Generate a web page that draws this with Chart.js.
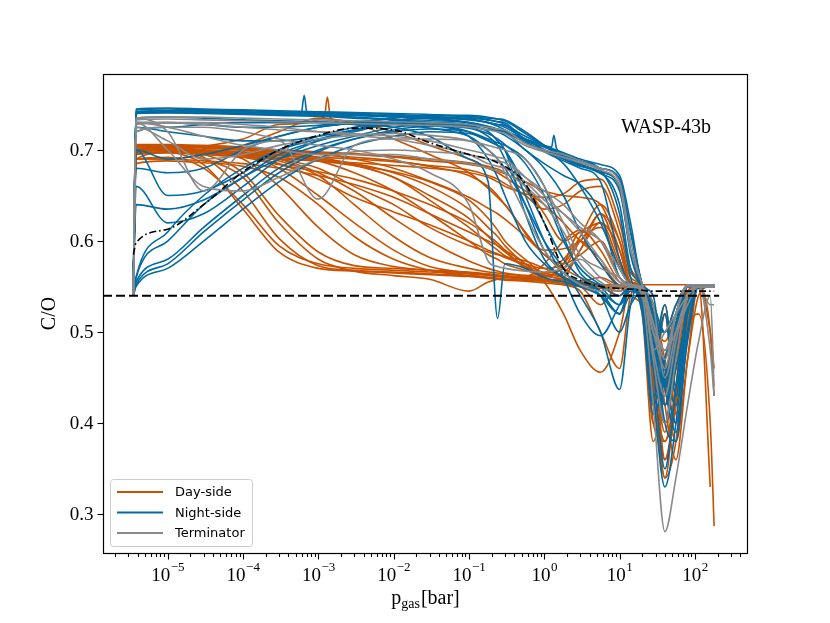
<!DOCTYPE html>
<html>
<head>
<meta charset="utf-8">
<script src="https://cdn.jsdelivr.net/npm/chart.js@4.4.0/dist/chart.umd.min.js"></script>
<style>
  html, body { margin: 0; padding: 0; background: #fff; }
  #wrap { width: 830px; height: 623px; }
</style>
</head>
<body>
<div id="wrap"><canvas id="chart" width="830" height="623"></canvas></div>
<script>
// pression du gaz (bar), grille commune à toutes les courbes
const pressures = [3.5e-6, 3.8e-6,
  1e-5, 3e-5, 1e-4, 3e-4, 1e-3, 3e-3, 1e-2, 3e-2, 0.1,
  0.18, 0.24, 0.3, 0.56, 1, 1.8, 3, 5.6,
  10, 14, 20, 28, 40, 56, 80, 112, 160, 180];

// C/O côté jour
const dayCurves = [
  [0.545, 0.690, 0.697, 0.684, 0.635, 0.588, 0.570, 0.567, 0.565, 0.563, 0.561, 0.559, 0.558, 0.557, 0.556, 0.554, 0.552, 0.550, 0.530, 0.552, 0.550, 0.540, 0.420, 0.470, 0.520, 0.550, 0.550, 0.550, 0.550],
  [0.550, 0.700, 0.700, 0.692, 0.655, 0.603, 0.573, 0.568, 0.566, 0.564, 0.562, 0.560, 0.559, 0.558, 0.557, 0.556, 0.553, 0.550, 0.548, 0.550, 0.552, 0.545, 0.450, 0.360, 0.430, 0.520, 0.550, 0.550, 0.550],
  [0.550, 0.695, 0.700, 0.695, 0.675, 0.628, 0.588, 0.573, 0.570, 0.568, 0.566, 0.564, 0.563, 0.562, 0.560, 0.558, 0.556, 0.553, 0.550, 0.540, 0.550, 0.548, 0.520, 0.460, 0.400, 0.500, 0.550, 0.550, 0.550],
  [0.550, 0.700, 0.703, 0.700, 0.695, 0.680, 0.650, 0.620, 0.590, 0.572, 0.565, 0.563, 0.562, 0.561, 0.560, 0.557, 0.555, 0.552, 0.550, 0.548, 0.550, 0.540, 0.440, 0.520, 0.410, 0.530, 0.550, 0.550, 0.550],
  [0.550, 0.700, 0.702, 0.700, 0.697, 0.690, 0.675, 0.655, 0.625, 0.600, 0.578, 0.570, 0.567, 0.565, 0.562, 0.558, 0.556, 0.553, 0.550, 0.545, 0.550, 0.548, 0.520, 0.500, 0.530, 0.550, 0.550, 0.550, 0.550],
  [0.550, 0.705, 0.705, 0.703, 0.700, 0.695, 0.688, 0.675, 0.655, 0.630, 0.600, 0.585, 0.580, 0.575, 0.568, 0.562, 0.558, 0.555, 0.552, 0.548, 0.552, 0.550, 0.470, 0.390, 0.480, 0.550, 0.550, 0.550, 0.550],
  [0.550, 0.700, 0.700, 0.698, 0.695, 0.690, 0.680, 0.660, 0.640, 0.615, 0.595, 0.588, 0.585, 0.583, 0.578, 0.570, 0.560, 0.555, 0.550, 0.545, 0.550, 0.520, 0.380, 0.440, 0.500, 0.540, 0.550, 0.550, 0.550],
  [0.550, 0.700, 0.700, 0.700, 0.698, 0.695, 0.690, 0.685, 0.675, 0.660, 0.635, 0.615, 0.605, 0.595, 0.575, 0.565, 0.560, 0.555, 0.550, 0.550, 0.552, 0.548, 0.530, 0.470, 0.420, 0.510, 0.550, 0.550, 0.550],
  [0.550, 0.705, 0.705, 0.703, 0.700, 0.698, 0.695, 0.692, 0.688, 0.682, 0.672, 0.660, 0.650, 0.640, 0.610, 0.585, 0.575, 0.585, 0.600, 0.560, 0.552, 0.545, 0.480, 0.400, 0.470, 0.550, 0.550, 0.550, 0.550],
  [0.550, 0.700, 0.700, 0.698, 0.696, 0.694, 0.692, 0.690, 0.687, 0.683, 0.678, 0.672, 0.668, 0.663, 0.650, 0.635, 0.640, 0.655, 0.660, 0.610, 0.565, 0.550, 0.460, 0.520, 0.430, 0.520, 0.550, 0.550, 0.550],
  [0.550, 0.695, 0.697, 0.695, 0.692, 0.690, 0.688, 0.686, 0.683, 0.680, 0.675, 0.670, 0.665, 0.660, 0.652, 0.648, 0.652, 0.665, 0.668, 0.620, 0.570, 0.548, 0.460, 0.340, 0.440, 0.550, 0.550, 0.550, 0.550],
  [0.550, 0.700, 0.700, 0.698, 0.695, 0.692, 0.688, 0.683, 0.676, 0.665, 0.645, 0.625, 0.612, 0.600, 0.580, 0.565, 0.570, 0.600, 0.615, 0.570, 0.552, 0.545, 0.510, 0.490, 0.520, 0.550, 0.550, 0.550, 0.550],
  [0.550, 0.690, 0.690, 0.688, 0.685, 0.680, 0.672, 0.662, 0.648, 0.630, 0.610, 0.600, 0.595, 0.590, 0.575, 0.555, 0.520, 0.480, 0.456, 0.500, 0.550, 0.550, 0.440, 0.340, 0.380, 0.500, 0.520, 0.400, 0.287],
  [0.550, 0.690, 0.690, 0.695, 0.705, 0.720, 0.735, 0.730, 0.720, 0.705, 0.690, 0.680, 0.675, 0.670, 0.655, 0.640, 0.620, 0.600, 0.580, 0.550, 0.552, 0.530, 0.400, 0.450, 0.500, 0.550, 0.550, 0.500, 0.430],
  [0.550, 0.700, 0.700, 0.690, 0.670, 0.620, 0.580, 0.567, 0.562, 0.558, 0.545, 0.555, 0.558, 0.560, 0.562, 0.565, 0.580, 0.600, 0.575, 0.550, 0.540, 0.530, 0.500, 0.440, 0.380, 0.470, 0.540, 0.550, 0.550],
  [0.550, 0.685, 0.688, 0.686, 0.682, 0.670, 0.640, 0.605, 0.580, 0.568, 0.562, 0.560, 0.559, 0.558, 0.560, 0.575, 0.600, 0.612, 0.590, 0.555, 0.550, 0.540, 0.440, 0.380, 0.440, 0.520, 0.550, 0.550, 0.550],
  [0.550, 0.698, 0.700, 0.699, 0.697, 0.694, 0.690, 0.683, 0.670, 0.645, 0.615, 0.598, 0.590, 0.584, 0.572, 0.562, 0.565, 0.590, 0.630, 0.580, 0.552, 0.545, 0.500, 0.480, 0.520, 0.550, 0.552, 0.500, 0.460],
  [0.550, 0.703, 0.704, 0.703, 0.701, 0.699, 0.697, 0.695, 0.692, 0.688, 0.684, 0.680, 0.677, 0.674, 0.665, 0.655, 0.650, 0.648, 0.640, 0.590, 0.555, 0.550, 0.500, 0.360, 0.420, 0.530, 0.550, 0.550, 0.550],
  [0.550, 0.700, 0.701, 0.699, 0.690, 0.660, 0.615, 0.585, 0.572, 0.568, 0.565, 0.563, 0.562, 0.561, 0.559, 0.556, 0.553, 0.552, 0.552, 0.552, 0.552, 0.530, 0.420, 0.470, 0.510, 0.545, 0.552, 0.552, 0.552],
  [0.550, 0.702, 0.703, 0.702, 0.700, 0.697, 0.692, 0.684, 0.670, 0.650, 0.625, 0.605, 0.595, 0.588, 0.572, 0.563, 0.558, 0.556, 0.560, 0.552, 0.552, 0.550, 0.520, 0.420, 0.360, 0.470, 0.552, 0.552, 0.552],
  [0.550, 0.695, 0.698, 0.697, 0.694, 0.688, 0.672, 0.640, 0.605, 0.582, 0.570, 0.566, 0.565, 0.564, 0.562, 0.560, 0.575, 0.610, 0.600, 0.560, 0.552, 0.545, 0.470, 0.530, 0.440, 0.520, 0.552, 0.552, 0.552],
  [0.550, 0.704, 0.705, 0.704, 0.702, 0.700, 0.698, 0.696, 0.693, 0.690, 0.686, 0.682, 0.679, 0.675, 0.660, 0.630, 0.600, 0.610, 0.620, 0.575, 0.552, 0.552, 0.552, 0.552, 0.552, 0.552, 0.552, 0.552, 0.552],
  [0.545, 0.690, 0.692, 0.680, 0.640, 0.595, 0.575, 0.570, 0.568, 0.566, 0.564, 0.562, 0.561, 0.560, 0.558, 0.556, 0.560, 0.590, 0.620, 0.590, 0.552, 0.548, 0.470, 0.420, 0.480, 0.552, 0.552, 0.552, 0.552],
  [0.550, 0.699, 0.700, 0.698, 0.694, 0.685, 0.668, 0.648, 0.632, 0.618, 0.600, 0.590, 0.586, 0.582, 0.575, 0.570, 0.575, 0.605, 0.640, 0.600, 0.555, 0.550, 0.400, 0.380, 0.430, 0.540, 0.552, 0.552, 0.552],
  [0.550, 0.706, 0.706, 0.705, 0.703, 0.700, 0.696, 0.690, 0.680, 0.666, 0.648, 0.636, 0.630, 0.624, 0.605, 0.585, 0.570, 0.560, 0.552, 0.552, 0.552, 0.552, 0.520, 0.450, 0.500, 0.552, 0.552, 0.330, null],
  [0.550, 0.697, 0.698, 0.696, 0.692, 0.684, 0.676, 0.668, 0.655, 0.640, 0.620, 0.606, 0.598, 0.590, 0.570, 0.560, 0.552, 0.545, 0.500, 0.460, 0.540, 0.552, 0.450, 0.360, 0.420, 0.530, 0.552, 0.552, 0.552]
];

// courbe côté jour avec pic vers 1.3e-3 bar (grille propre)
const daySpikeP = [3.5e-6, 3.8e-6, 1e-5, 1e-4, 3e-4, 1.2e-3, 1.32e-3, 1.45e-3, 3e-3, 0.01,
  0.03, 0.1, 0.3, 1, 3, 5.6, 10, 14, 20, 28, 40, 56, 80, 112, 180];
const daySpike = [0.550, 0.700, 0.702, 0.712, 0.728, 0.736, 0.758, 0.735, 0.728, 0.712,
  0.695, 0.675, 0.640, 0.590, 0.600, 0.630, 0.600, 0.560, 0.548, 0.470, 0.400, 0.460, 0.540, 0.552, 0.552];

// C/O côté nuit
const nightCurves = [
  [0.545, 0.745, 0.746, 0.745, 0.744, 0.743, 0.742, 0.741, 0.740, 0.739, 0.736, 0.733, 0.731, 0.728, 0.712, 0.705, 0.697, 0.690, 0.684, 0.672, 0.620, 0.553, 0.540, 0.460, 0.510, 0.550, 0.548, 0.550, 0.550],
  [0.550, 0.742, 0.743, 0.742, 0.741, 0.740, 0.739, 0.738, 0.736, 0.734, 0.730, 0.726, 0.723, 0.720, 0.708, 0.700, 0.692, 0.684, 0.676, 0.660, 0.590, 0.548, 0.500, 0.400, 0.380, 0.500, 0.550, 0.550, 0.550],
  [0.550, 0.740, 0.741, 0.740, 0.739, 0.738, 0.737, 0.735, 0.733, 0.730, 0.725, 0.715, 0.705, 0.690, 0.640, 0.590, 0.565, 0.555, 0.545, 0.530, 0.545, 0.530, 0.420, 0.470, 0.520, 0.550, 0.550, 0.550, 0.550],
  [0.550, 0.720, 0.725, 0.728, 0.730, 0.730, 0.730, 0.728, 0.725, 0.715, 0.690, 0.665, 0.515, 0.575, 0.570, 0.560, 0.555, 0.550, 0.540, 0.500, 0.530, 0.545, 0.470, 0.430, 0.500, 0.550, 0.550, 0.550, 0.550],
  [0.540, 0.555, 0.580, 0.615, 0.650, 0.680, 0.700, 0.712, 0.720, 0.723, 0.720, 0.712, 0.708, 0.705, 0.690, 0.660, 0.605, 0.565, 0.550, 0.530, 0.548, 0.545, 0.520, 0.440, 0.390, 0.500, 0.550, 0.550, 0.550],
  [0.540, 0.560, 0.600, 0.640, 0.670, 0.690, 0.705, 0.715, 0.725, 0.728, 0.726, 0.722, 0.721, 0.720, 0.712, 0.700, 0.685, 0.660, 0.620, 0.570, 0.552, 0.545, 0.510, 0.500, 0.530, 0.550, 0.550, 0.550, 0.550],
  [0.550, 0.640, 0.635, 0.645, 0.670, 0.695, 0.710, 0.720, 0.730, 0.732, 0.730, 0.725, 0.722, 0.720, 0.700, 0.685, 0.672, 0.662, 0.630, 0.560, 0.552, 0.540, 0.460, 0.350, 0.440, 0.530, 0.550, 0.550, 0.550],
  [0.550, 0.660, 0.620, 0.630, 0.660, 0.690, 0.710, 0.722, 0.732, 0.735, 0.735, 0.733, 0.731, 0.730, 0.710, 0.698, 0.688, 0.680, 0.665, 0.580, 0.552, 0.548, 0.460, 0.520, 0.430, 0.530, 0.550, 0.550, 0.550],
  [0.550, 0.700, 0.690, 0.695, 0.705, 0.715, 0.725, 0.730, 0.735, 0.738, 0.737, 0.735, 0.734, 0.733, 0.720, 0.705, 0.690, 0.682, 0.675, 0.640, 0.570, 0.548, 0.500, 0.420, 0.460, 0.520, 0.550, 0.550, 0.550],
  [0.550, 0.725, 0.720, 0.715, 0.710, 0.710, 0.715, 0.722, 0.730, 0.730, 0.727, 0.720, 0.710, 0.700, 0.630, 0.580, 0.560, 0.550, 0.540, 0.520, 0.550, 0.520, 0.410, 0.450, 0.510, 0.550, 0.550, 0.550, 0.550],
  [0.550, 0.730, 0.730, 0.728, 0.725, 0.725, 0.727, 0.730, 0.730, 0.728, 0.720, 0.710, 0.705, 0.700, 0.650, 0.600, 0.560, 0.520, 0.496, 0.530, 0.550, 0.548, 0.490, 0.400, 0.480, 0.550, 0.550, 0.550, 0.550],
  [0.550, 0.742, 0.743, 0.743, 0.742, 0.741, 0.740, 0.739, 0.738, 0.736, 0.733, 0.730, 0.728, 0.727, 0.715, 0.705, 0.695, 0.688, 0.678, 0.630, 0.560, 0.530, 0.430, 0.330, 0.400, 0.520, 0.550, 0.550, 0.550],
  [0.540, 0.550, 0.570, 0.600, 0.635, 0.665, 0.690, 0.705, 0.715, 0.720, 0.718, 0.710, 0.705, 0.700, 0.660, 0.620, 0.580, 0.560, 0.545, 0.520, 0.540, 0.540, 0.520, 0.460, 0.420, 0.500, 0.550, 0.550, 0.550],
  [0.550, 0.680, 0.675, 0.680, 0.700, 0.715, 0.725, 0.730, 0.735, 0.738, 0.738, 0.736, 0.734, 0.732, 0.718, 0.705, 0.693, 0.685, 0.676, 0.660, 0.585, 0.548, 0.530, 0.500, 0.520, 0.550, 0.550, 0.550, 0.550],
  [0.545, 0.744, 0.745, 0.744, 0.743, 0.742, 0.741, 0.740, 0.739, 0.737, 0.734, 0.730, 0.726, 0.722, 0.710, 0.703, 0.695, 0.688, 0.680, 0.668, 0.610, 0.552, 0.530, 0.450, 0.500, 0.552, 0.552, 0.552, 0.552],
  [0.550, 0.741, 0.742, 0.741, 0.740, 0.739, 0.738, 0.736, 0.733, 0.728, 0.715, 0.690, 0.670, 0.650, 0.600, 0.575, 0.560, 0.552, 0.540, 0.520, 0.552, 0.540, 0.430, 0.470, 0.520, 0.552, 0.552, 0.552, 0.552],
  [0.540, 0.560, 0.610, 0.650, 0.680, 0.700, 0.712, 0.722, 0.728, 0.730, 0.728, 0.724, 0.720, 0.716, 0.700, 0.680, 0.650, 0.610, 0.575, 0.552, 0.552, 0.545, 0.480, 0.440, 0.500, 0.552, 0.552, 0.552, 0.552],
  [0.540, 0.552, 0.575, 0.610, 0.645, 0.675, 0.698, 0.712, 0.722, 0.726, 0.724, 0.718, 0.712, 0.706, 0.685, 0.650, 0.600, 0.570, 0.552, 0.540, 0.552, 0.548, 0.510, 0.450, 0.400, 0.490, 0.552, 0.552, 0.552],
  [0.550, 0.700, 0.650, 0.655, 0.675, 0.700, 0.715, 0.725, 0.732, 0.735, 0.734, 0.730, 0.728, 0.725, 0.712, 0.700, 0.690, 0.683, 0.674, 0.655, 0.590, 0.552, 0.480, 0.530, 0.440, 0.530, 0.552, 0.552, 0.552],
  [0.550, 0.735, 0.736, 0.735, 0.733, 0.732, 0.731, 0.730, 0.728, 0.724, 0.715, 0.700, 0.690, 0.680, 0.640, 0.600, 0.570, 0.540, 0.500, 0.437, 0.530, 0.552, 0.510, 0.420, 0.490, 0.552, 0.552, 0.552, 0.552]
];

// courbe côté nuit avec pics vers 6.5e-4 et 1.3 bar (grille propre)
const nightSpikeP = [3.5e-6, 3.8e-6, 1e-5, 1e-4, 5.9e-4, 6.5e-4, 7.1e-4, 3e-3, 0.03, 0.1,
  0.3, 0.56, 1, 1.25, 1.34, 1.45, 1.8, 3, 5.6, 10,
  14, 20, 28, 40, 56, 80, 112, 160, 180];
const nightSpike = [0.545, 0.740, 0.741, 0.740, 0.739, 0.760, 0.739, 0.738, 0.735, 0.730,
  0.720, 0.712, 0.705, 0.703, 0.716, 0.702, 0.695, 0.688, 0.680, 0.668,
  0.610, 0.552, 0.520, 0.440, 0.500, 0.552, 0.552, 0.552, 0.552];

// C/O au terminateur
const termCurves = [
  [0.540, 0.735, 0.736, 0.736, 0.735, 0.734, 0.733, 0.732, 0.731, 0.730, 0.728, 0.725, 0.723, 0.722, 0.707, 0.700, 0.695, 0.688, 0.680, 0.665, 0.600, 0.552, 0.530, 0.450, 0.500, 0.540, 0.550, 0.550, 0.550],
  [0.540, 0.735, 0.720, 0.655, 0.700, 0.710, 0.646, 0.705, 0.712, 0.712, 0.710, 0.705, 0.702, 0.700, 0.690, 0.660, 0.620, 0.585, 0.570, 0.560, 0.550, 0.550, 0.480, 0.500, 0.520, 0.540, 0.550, 0.550, 0.550],
  [0.540, 0.730, 0.700, 0.660, 0.655, 0.670, 0.690, 0.698, 0.700, 0.698, 0.695, 0.690, 0.688, 0.686, 0.670, 0.655, 0.640, 0.620, 0.600, 0.560, 0.550, 0.545, 0.480, 0.430, 0.490, 0.540, 0.550, 0.550, 0.550],
  [0.540, 0.720, 0.725, 0.725, 0.720, 0.712, 0.705, 0.700, 0.690, 0.675, 0.640, 0.578, 0.572, 0.570, 0.567, 0.566, 0.570, 0.580, 0.560, 0.550, 0.552, 0.545, 0.500, 0.480, 0.500, 0.530, 0.550, 0.550, 0.550],
  [0.540, 0.730, 0.730, 0.728, 0.725, 0.722, 0.720, 0.718, 0.715, 0.710, 0.700, 0.695, 0.692, 0.690, 0.670, 0.650, 0.630, 0.610, 0.580, 0.555, 0.552, 0.540, 0.420, 0.281, 0.340, 0.420, 0.490, 0.540, 0.440],
  [0.540, 0.730, 0.725, 0.715, 0.705, 0.700, 0.695, 0.695, 0.695, 0.690, 0.685, 0.680, 0.677, 0.675, 0.660, 0.640, 0.610, 0.575, 0.555, 0.545, 0.550, 0.545, 0.470, 0.400, 0.470, 0.540, 0.550, 0.550, 0.550],
  [0.540, 0.728, 0.730, 0.730, 0.728, 0.725, 0.720, 0.716, 0.712, 0.705, 0.695, 0.685, 0.682, 0.680, 0.665, 0.645, 0.630, 0.615, 0.600, 0.570, 0.552, 0.548, 0.510, 0.480, 0.520, 0.550, 0.550, 0.530, 0.530],
  [0.540, 0.733, 0.734, 0.733, 0.732, 0.731, 0.730, 0.729, 0.728, 0.727, 0.725, 0.722, 0.720, 0.718, 0.705, 0.698, 0.692, 0.686, 0.678, 0.660, 0.590, 0.552, 0.510, 0.470, 0.520, 0.552, 0.552, 0.480, 0.430],
  [0.540, 0.725, 0.710, 0.690, 0.695, 0.705, 0.712, 0.716, 0.718, 0.716, 0.710, 0.700, 0.690, 0.675, 0.630, 0.590, 0.565, 0.552, 0.545, 0.552, 0.552, 0.550, 0.500, 0.460, 0.520, 0.552, 0.552, 0.552, 0.552]
];

// courbe de référence (tirets-points noirs)
const refCurve = [0.585, 0.598, 0.613, 0.640, 0.676, 0.700, 0.716, 0.724, 0.722, 0.708, 0.695, 0.690, 0.686, 0.682, 0.663, 0.620, 0.570, 0.557, 0.550, 0.548, 0.547, 0.546, 0.545, 0.545, 0.545, 0.545, 0.545, 0.545, 0.545];

// C/O solaire + étendue de la ligne
const refCO = 0.54;
const refCORange = [1.384e-6, 210];

// axes
const xRange = [1.384e-6, 492];
const yRange = [0.2575, 0.7834];
const xTickExps = [-5, -4, -3, -2, -1, 0, 1, 2];
const yTicks = [0.3, 0.4, 0.5, 0.6, 0.7];
const legendLabels = ["Day-side", "Night-side", "Terminator"];
const planetName = "WASP-43b";

const COL_DAY = "#C85200";
const COL_NIGHT = "#006BA4";
const COL_TERM = "#898989";
const SERIF = "'Liberation Serif', 'DejaVu Serif', serif";
const SANS = "'DejaVu Sans', sans-serif";

function toPoints(vals, ps = pressures) {
    if (vals.length !== ps.length) throw new Error("longueur incorrecte: " + vals.length);
    return vals.map((v, i) => ({ x: ps[i], y: v }));
}

const datasets = [];
// ordre élevé = dessiné en dessous
datasets.push({ data: [{ x: refCORange[0], y: refCO }, { x: refCORange[1], y: refCO }],
    borderColor: "#000", borderWidth: 2, borderDash: [9, 4], order: 0 });
datasets.push({ data: toPoints(refCurve), borderColor: "#000", borderWidth: 1.6, borderDash: [7, 3, 1.5, 3], order: 1 });
termCurves.forEach(c => datasets.push({ data: toPoints(c), borderColor: COL_TERM, order: 2 }));
nightCurves.forEach(c => datasets.push({ data: toPoints(c), borderColor: COL_NIGHT, order: 3 }));
datasets.push({ data: toPoints(nightSpike, nightSpikeP), borderColor: COL_NIGHT, order: 3 });
dayCurves.forEach(c => datasets.push({ data: toPoints(c), borderColor: COL_DAY, order: 4 }));
datasets.push({ data: toPoints(daySpike, daySpikeP), borderColor: COL_DAY, order: 4 });

// Axes, graduations, légende et textes
const decorPlugin = {
    id: "decor",
    afterDraw(chart) {
        const ctx = chart.ctx;
        const a = chart.chartArea;
        const xs = chart.scales.x, ys = chart.scales.y;
        ctx.save();
        ctx.strokeStyle = "#000";
        ctx.fillStyle = "#000";

        // cadre
        ctx.lineWidth = 1.2;
        ctx.strokeRect(Math.round(a.left) + 0.5, Math.round(a.top) + 0.5,
            Math.round(a.right - a.left), Math.round(a.bottom - a.top));

        const tick = (x1, y1, x2, y2) => { ctx.beginPath(); ctx.moveTo(x1, y1); ctx.lineTo(x2, y2); ctx.stroke(); };

        // graduations x (majeures + mineures)
        ctx.lineWidth = 1.1;
        const bottom = Math.round(a.bottom) + 0.5;
        for (let e = -6; e <= 2; e++) {
            for (let m = 1; m <= 9; m++) {
                const v = m * Math.pow(10, e);
                if (v < xRange[0] || v > xRange[1]) continue;
                const px = Math.round(xs.getPixelForValue(v)) + 0.5;
                tick(px, bottom, px, bottom + (m === 1 ? 6 : 3.5));
            }
        }
        xTickExps.forEach(e => {
            const px = xs.getPixelForValue(Math.pow(10, e));
            const base = "10";
            const sup = e < 0 ? "\u2212" + Math.abs(e) : String(e);
            ctx.font = "19px " + SERIF;
            const wb = ctx.measureText(base).width;
            ctx.font = "13px " + SERIF;
            const ws = ctx.measureText(sup).width;
            const x0 = px - (wb + ws) / 2;
            ctx.textAlign = "left";
            ctx.textBaseline = "alphabetic";
            ctx.font = "19px " + SERIF;
            ctx.fillText(base, x0, 581);
            ctx.font = "13px " + SERIF;
            ctx.fillText(sup, x0 + wb + 0.5, 571);
        });

        // graduations y
        const left = Math.round(a.left) + 0.5;
        ctx.font = "19px " + SERIF;
        ctx.textAlign = "right";
        ctx.textBaseline = "middle";
        yTicks.forEach(t => {
            const py = Math.round(ys.getPixelForValue(t)) + 0.5;
            tick(left - 6, py, left, py);
            ctx.fillText(t.toFixed(1), left - 10, py + 1);
        });

        // titre de l'axe y
        ctx.save();
        ctx.translate(50, (a.top + a.bottom) / 2);
        ctx.rotate(-Math.PI / 2);
        ctx.font = "20px " + SERIF;
        ctx.textAlign = "center";
        ctx.textBaseline = "middle";
        ctx.fillText("C/O", 0, 0);
        ctx.restore();

        // titre de l'axe x : p_gas[bar]
        ctx.textBaseline = "alphabetic";
        ctx.textAlign = "left";
        ctx.font = "20px " + SERIF;
        const wP = ctx.measureText("p").width;
        const wB = ctx.measureText("[bar]").width;
        ctx.font = "14px " + SERIF;
        const wG = ctx.measureText("gas").width;
        let cx = (a.left + a.right) / 2 - (wP + wG + wB) / 2;
        ctx.font = "20px " + SERIF;
        ctx.fillText("p", cx, 604);
        ctx.font = "14px " + SERIF;
        ctx.fillText("gas", cx + wP, 608);
        ctx.font = "20px " + SERIF;
        ctx.fillText("[bar]", cx + wP + wG + 1, 604);

        // nom de la planète
        ctx.font = "20px " + SERIF;
        ctx.fillText(planetName, 621, 133);

        // légende
        const lx = 110.5, ly = 479.5, lw = 142, lh = 67;
        ctx.beginPath();
        ctx.roundRect(lx, ly, lw, lh, 3);
        ctx.fillStyle = "rgba(255,255,255,0.85)";
        ctx.fill();
        ctx.strokeStyle = "#cccccc";
        ctx.lineWidth = 1;
        ctx.stroke();
        const legCols = [COL_DAY, COL_NIGHT, COL_TERM];
        const rows = [492, 512.5, 533];
        ctx.font = "13px " + SANS;
        ctx.textBaseline = "middle";
        legendLabels.forEach((lab, i) => {
            ctx.strokeStyle = legCols[i];
            ctx.lineWidth = 1.8;
            tick(117, rows[i], 163, rows[i]);
            ctx.fillStyle = "#000";
            ctx.fillText(lab, 175, rows[i] + 1);
        });
        ctx.restore();
    }
};

new Chart(document.getElementById("chart"), {
    type: "line",
    data: { datasets: datasets },
    options: {
        responsive: false,
        animation: false,
        devicePixelRatio: 1,
        parsing: false,
        layout: { padding: { top: 74, right: 83, left: 0, bottom: 0 } },
        plugins: { legend: { display: false }, tooltip: { enabled: false } },
        elements: {
            point: { radius: 0 },
            line: { borderWidth: 1.6, cubicInterpolationMode: "monotone", fill: false }
        },
        scales: {
            x: {
                type: "logarithmic", min: xRange[0], max: xRange[1],
                ticks: { display: false }, grid: { display: false }, border: { display: false },
                afterFit: s => { s.height = 70; }
            },
            y: {
                type: "linear", min: yRange[0], max: yRange[1],
                ticks: { display: false }, grid: { display: false }, border: { display: false },
                afterFit: s => { s.width = 103; }
            }
        }
    },
    plugins: [decorPlugin]
});
</script>
</body>
</html>
